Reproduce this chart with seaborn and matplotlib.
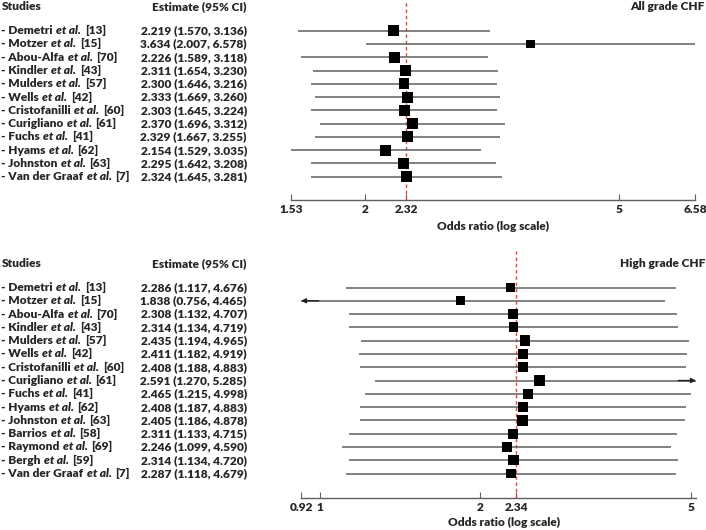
import numpy as np
import pandas as pd
import matplotlib
matplotlib.use("Agg")
import matplotlib.pyplot as plt
import matplotlib.transforms as mtransforms
import seaborn as sns

# ---- data ----
all_names = ["Demetri", "Motzer", "Abou-Alfa", "Kindler", "Mulders", "Wells",
             "Cristofanilli", "Curigliano", "Fuchs", "Hyams", "Johnston",
             "Van der Graaf"]
all_refs = [13, 15, 70, 43, 57, 42, 60, 61, 41, 62, 63, 7]
all_est = [2.219, 3.634, 2.226, 2.311, 2.300, 2.333, 2.303, 2.370, 2.329,
           2.154, 2.295, 2.324]
all_lo = [1.570, 2.007, 1.589, 1.654, 1.646, 1.669, 1.645, 1.696, 1.667,
          1.529, 1.642, 1.645]
all_hi = [3.136, 6.578, 3.118, 3.230, 3.216, 3.260, 3.224, 3.312, 3.255,
          3.035, 3.208, 3.281]
all_weight = [1.0, 0.75, 1.0, 1.0, 0.97, 1.0, 0.97, 1.0, 1.0, 1.0, 0.95, 0.97]
all_pooled = 2.32
all_ticks = [1.53, 2, 2.32, 5, 6.58]
all_ticklabels = ["1.53", "2", "2.32", "5", "6.58"]

high_names = ["Demetri", "Motzer", "Abou-Alfa", "Kindler", "Mulders", "Wells",
              "Cristofanilli", "Curigliano", "Fuchs", "Hyams", "Johnston",
              "Barrios", "Raymond", "Bergh", "Van der Graaf"]
high_refs = [13, 15, 70, 43, 57, 42, 60, 61, 41, 62, 63, 58, 69, 59, 7]
high_est = [2.286, 1.838, 2.308, 2.314, 2.435, 2.411, 2.408, 2.591, 2.465,
            2.408, 2.405, 2.311, 2.246, 2.314, 2.287]
high_lo = [1.117, 0.756, 1.132, 1.134, 1.194, 1.182, 1.188, 1.270, 1.215,
           1.187, 1.186, 1.133, 1.099, 1.134, 1.118]
high_hi = [4.676, 4.465, 4.707, 4.719, 4.965, 4.919, 4.883, 5.285, 4.998,
           4.883, 4.878, 4.715, 4.590, 4.720, 4.679]
high_weight = [0.93, 0.88, 0.93, 0.96, 1.0, 1.0, 0.96, 1.05, 0.96, 0.96, 1.0,
               1.0, 0.98, 0.98, 0.95]
high_pooled = 2.34
high_ticks = [0.92, 1, 2, 2.34, 5]
high_ticklabels = ["0.92", "1", "2", "2.34", "5"]

sns.set_theme(style="white")
plt.rcParams["font.family"] = ["Lato", "DejaVu Sans"]

W, H = 706, 530
fig = plt.figure(figsize=(W / 100, H / 100), dpi=100)

LINE = "#5f5f5f"
RED = "#e8453c"
FS = 8.6
WT = "heavy"


def px_axes(x0, x1, y0, y1):
    return fig.add_axes([x0 / W, 1 - y1 / H, (x1 - x0) / W, (y1 - y0) / H])


def forest(ax, names, refs, est, lo, hi, weight, pooled, xlim, ticks,
           ticklabels, title, row0, step, y0, y1, smin, smax):
    n = len(names)
    rows = np.arange(n)
    ax.set_xscale("log")
    ax.set_xlim(*xlim)
    ax.set_ylim((y1 - row0) / step, (y0 - row0) / step)

    # confidence intervals, arrows where they clearly leave the axis
    for r, l, h in zip(rows, lo, hi):
        a, b = max(l, xlim[0]), min(h, xlim[1])
        ax.plot([a, b], [r, r], color=LINE, lw=1.1, solid_capstyle="butt",
                zorder=2)
        if l < xlim[0] * 0.98:
            ax.annotate("", xy=(xlim[0], r), xytext=(xlim[0] * 1.08, r),
                        arrowprops=dict(arrowstyle="-|>", color="#222222",
                                        lw=1.0, mutation_scale=7,
                                        shrinkA=0, shrinkB=0), zorder=3)
        if h > xlim[1] * 1.02:
            ax.annotate("", xy=(xlim[1], r), xytext=(xlim[1] / 1.08, r),
                        arrowprops=dict(arrowstyle="-|>", color="#222222",
                                        lw=1.0, mutation_scale=7,
                                        shrinkA=0, shrinkB=0), zorder=3)

    df = pd.DataFrame({"est": est, "row": rows, "weight": weight})
    sns.scatterplot(data=df, x="est", y="row", size="weight",
                    sizes=(smin, smax), marker="s", color="black",
                    edgecolor="none", legend=False, ax=ax, zorder=4)

    ax.axvline(pooled, color=RED, lw=1.0, ls=(0, (2.5, 2)), zorder=1)

    ax.set_xticks(ticks)
    ax.set_xticklabels(ticklabels)
    ax.minorticks_off()
    ax.set_yticks([])
    ax.set_ylabel("")
    ax.set_xlabel("Odds ratio (log scale)", fontsize=FS, fontweight=WT,
                  labelpad=4)
    ax.tick_params(axis="x", direction="in", length=4, width=0.8,
                   color=LINE, labelsize=FS, pad=3, bottom=True)
    for lab in ax.get_xticklabels():
        lab.set_fontweight(WT)
    for s in ["top", "left", "right"]:
        ax.spines[s].set_visible(False)
    ax.spines["bottom"].set_color(LINE)
    ax.spines["bottom"].set_linewidth(1.0)
    ax.patch.set_alpha(0)

    # left-hand text columns
    tr = mtransforms.blended_transform_factory(fig.transFigure, ax.transData)
    hy = -1.8
    ax.text(2 / W, hy, "Studies", transform=tr, fontsize=FS,
            fontweight=WT, va="center", ha="left")
    ax.text(247 / W, hy, "Estimate (95% CI)", transform=tr, fontsize=FS,
            fontweight=WT, va="center", ha="right")
    ax.text(705 / W, hy, title, transform=tr, fontsize=FS,
            fontweight=WT, va="center", ha="right")
    for r, nm, rf, e, l, h in zip(rows, names, refs, est, lo, hi):
        t1 = ax.text(1 / W, r, f"- {nm}", transform=tr, fontsize=FS,
                     fontweight=WT, va="center", ha="left")
        t2 = ax.annotate("et al.", xy=(1, 0), xycoords=t1,
                         xytext=(2.6, 0), textcoords="offset points",
                         fontsize=FS, fontweight=WT, fontstyle="italic",
                         va="bottom", ha="left")
        ax.annotate(f"[{rf}]", xy=(1, 0), xycoords=t2,
                    xytext=(2.6, 0), textcoords="offset points",
                    fontsize=FS, fontweight=WT, va="bottom", ha="left")
        ax.text(247 / W, r, f"{e:.3f} ({l:.3f}, {h:.3f})", transform=tr,
                fontsize=FS, fontweight=WT, va="center", ha="right")


ax1 = px_axes(291, 695, 0, 200)
forest(ax1, all_names, all_refs, all_est, all_lo, all_hi, all_weight,
       all_pooled, (1.53, 6.58), all_ticks, all_ticklabels, "All grade CHF",
       30.7, 13.27, 0, 200, 36, 62)

ax2 = px_axes(301, 696, 251, 498)
forest(ax2, high_names, high_refs, high_est, high_lo, high_hi, high_weight,
       high_pooled, (0.92, 5.11), high_ticks, high_ticklabels,
       "High grade CHF", 287.5, 13.29, 251, 498, 40, 62)
ax2.xaxis.set_label_coords((504 - 301) / 395, -0.075)

fig.savefig("out.png", dpi=100)
